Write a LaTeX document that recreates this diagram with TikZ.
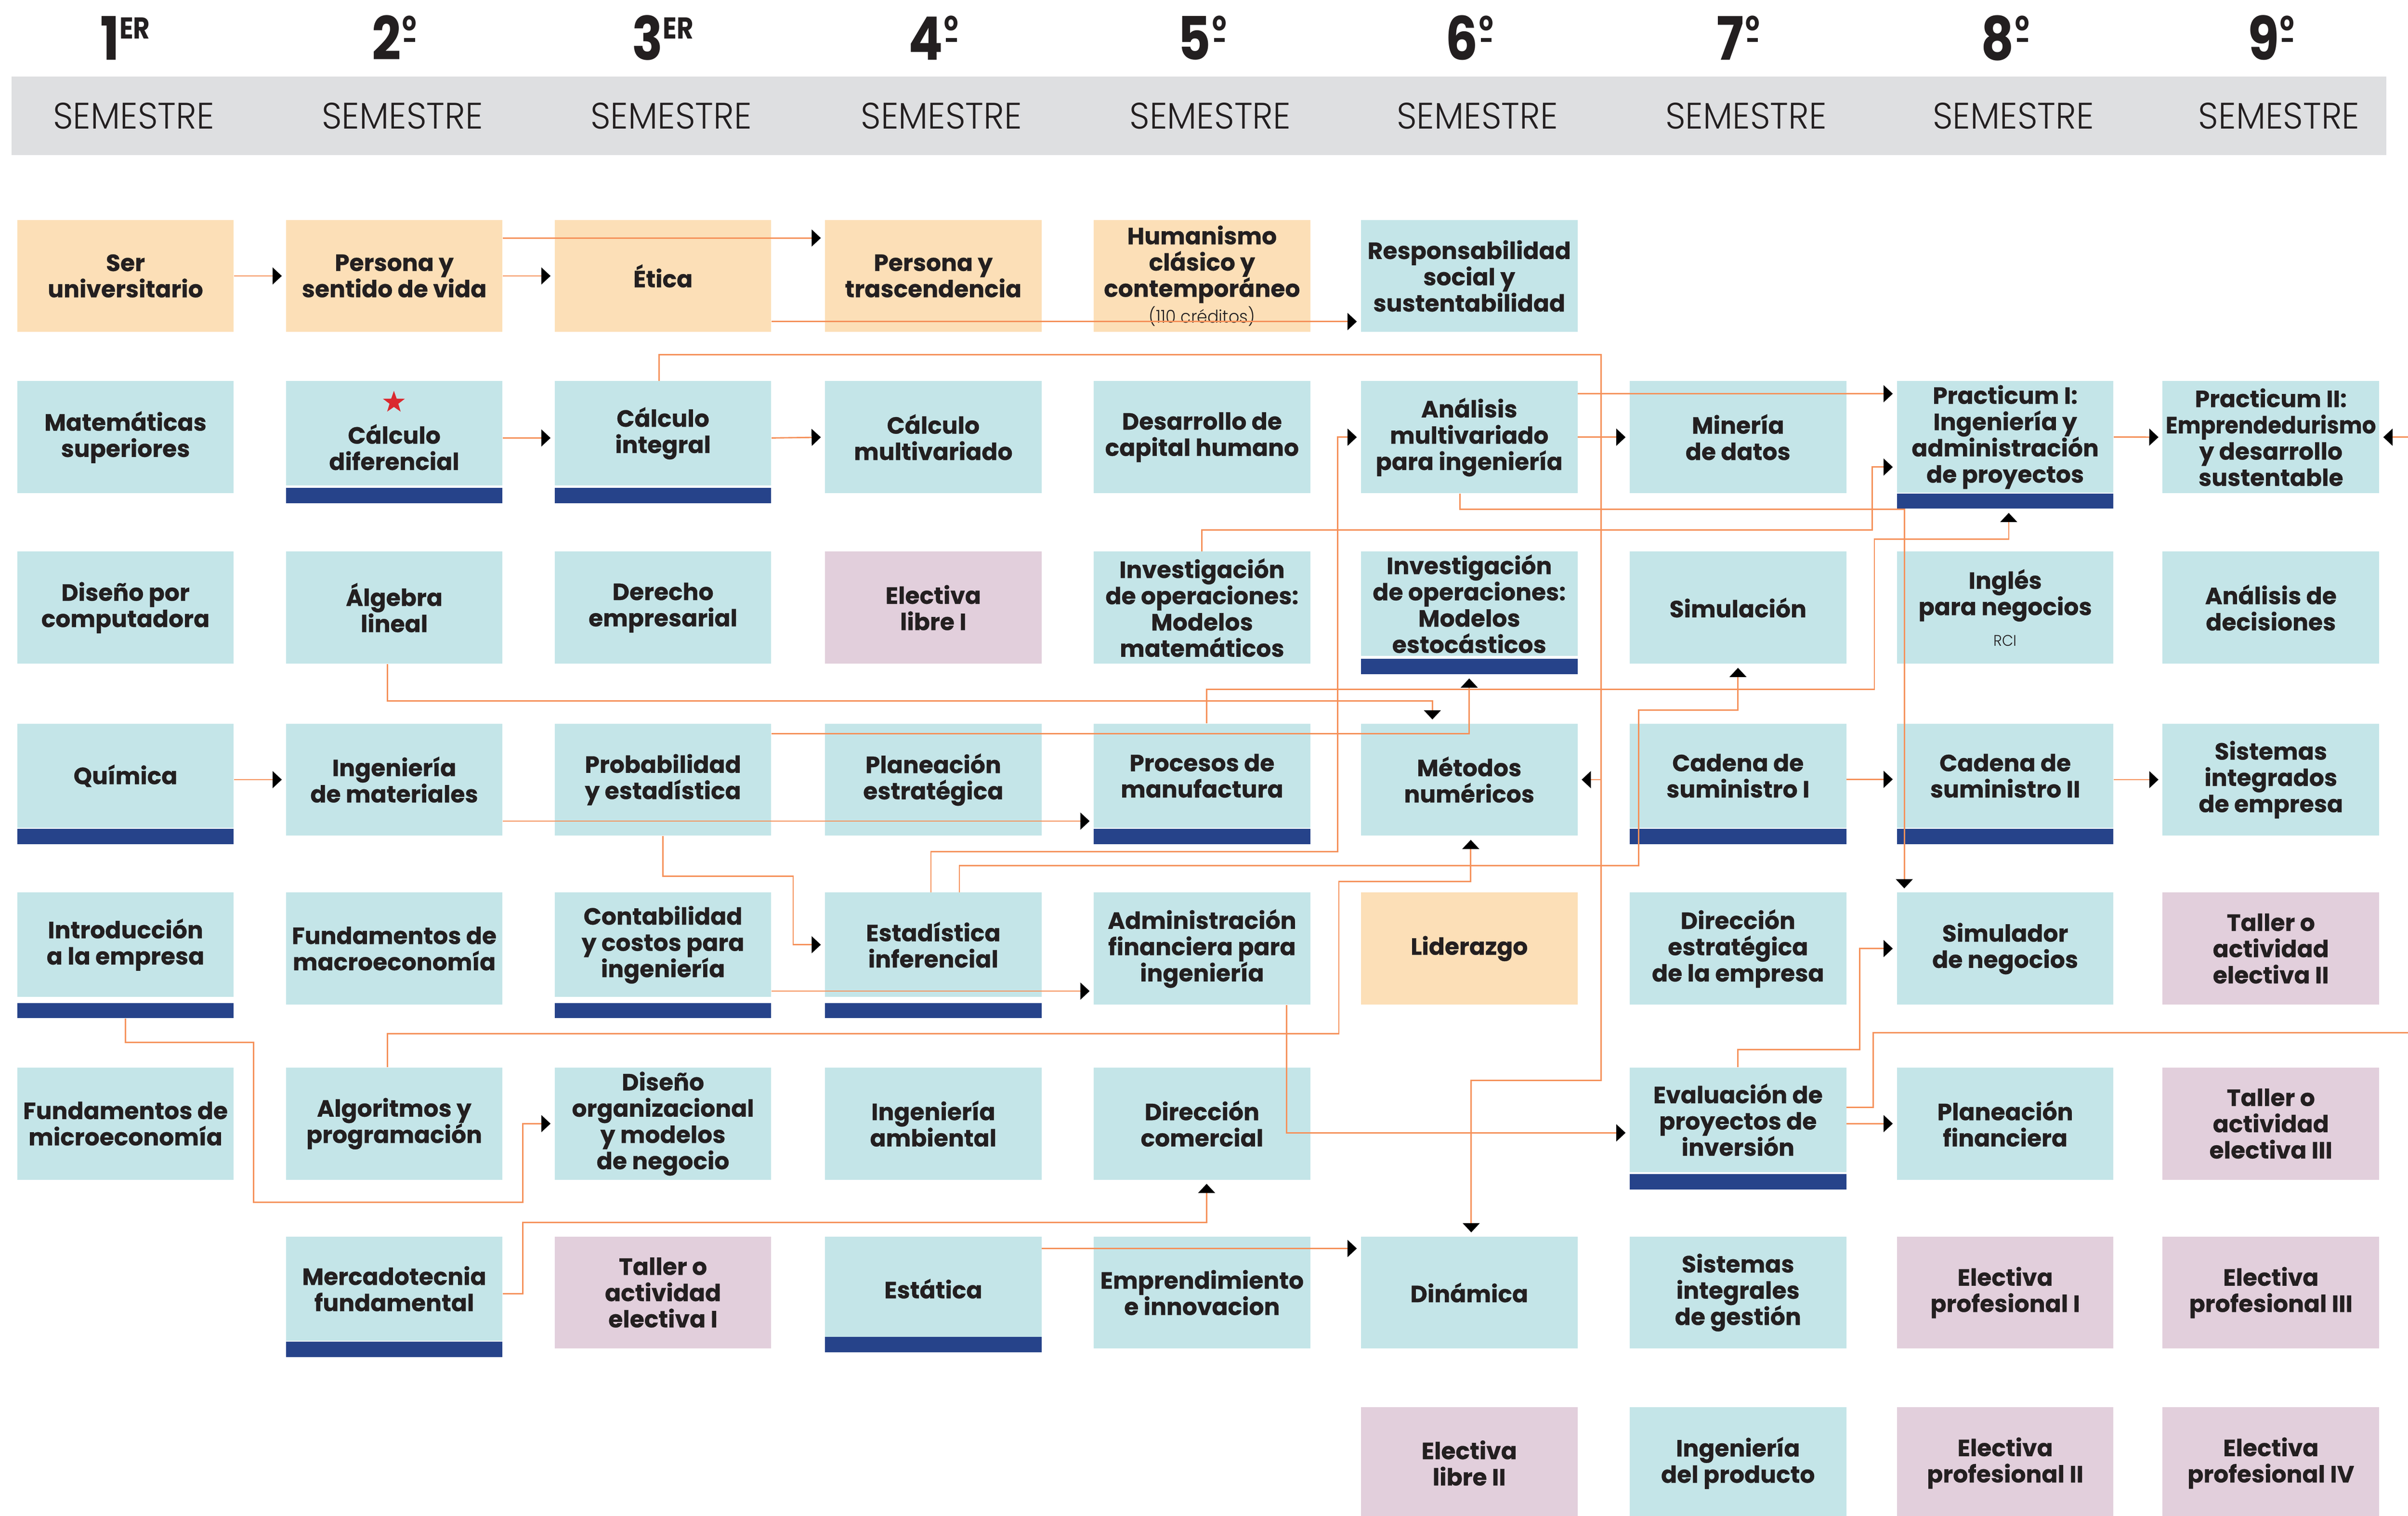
\documentclass[tikz,border=0pt]{standalone}
\usepackage{fontspec}
\usepackage{graphicx}
\setmainfont{Poppins}
\newfontfamily\boxfont{Poppins Bold}[FakeStretch=1.0,FakeBold=0.5]
\newfontfamily\thinfont{Poppins Light}[FakeStretch=0.95]
\newfontfamily\numfont{Poppins Bold}[FakeStretch=0.85]
\usetikzlibrary{arrows.meta,shapes.geometric}
\tikzset{>={Triangle[length=6pt,width=11pt,color=black]}}
\definecolor{peach}{RGB}{252,223,183}
\definecolor{aqua}{RGB}{196,229,232}
\definecolor{lilac}{RGB}{226,207,220}
\definecolor{barblue}{RGB}{38,67,138}
\definecolor{headgray}{RGB}{222,223,225}
\definecolor{ink}{RGB}{35,31,32}
\definecolor{wire}{RGB}{245,145,90}
\definecolor{starred}{RGB}{218,41,47}
\newcommand{\cfont}{\boxfont\fontsize{15.3}{17.1}\selectfont}
\tikzset{
  course/.style={rectangle,inner sep=0pt,minimum width=141pt,minimum height=73pt,
    anchor=north west,align=center,text=ink,font=\cfont},
  barcourse/.style={course,minimum height=68pt},
  coursetext/.style={inner sep=0pt,align=center,text=ink,font=\cfont},
  stripe/.style={rectangle,inner sep=0pt,minimum width=141pt,minimum height=10pt,
    fill=barblue,anchor=north},
  link/.style={->,wire,line width=0.9pt,shorten >=2.5pt},
  semnum/.style={anchor=base,text=ink,inner sep=0pt},
  semlab/.style={anchor=base,text=ink,inner sep=0pt,font=\thinfont\fontsize{24}{24}\selectfont}
}
\newcommand{\supER}{\raisebox{13.6pt}{\numfont\fontsize{19.6}{19.6}\selectfont ER}}
\newcommand{\ordo}{\hspace{1.5pt}%
  \makebox[0pt][l]{\makebox[8pt][c]{\raisebox{19pt}{\numfont\fontsize{17}{17}\selectfont o}}}%
  \makebox[8pt][c]{\raisebox{11.6pt}{\rule{7pt}{2.6pt}}}}
\newcommand{\semester}[3]{%
  \node[semnum] (num#1) at (#2,39) {{\numfont\fontsize{39}{39}\selectfont #1}#3};
  \node[semlab] (sem#1) at (#2+5.5,84) {SEMESTRE};
}
\newcommand{\stripe}[2]{\node[stripe] (#1-bar) at ([yshift=#2pt]#1.south) {};}

\begin{document}
\begin{tikzpicture}[x=1pt,y=-1pt]
  \useasboundingbox (0,0) rectangle (1568,987);

  % HEADER
  \fill[headgray] (7.4,50) rectangle (1554,101);
  \semester{1}{81.5}{\supER}
  \semester{2}{256.5}{\ordo}
  \semester{3}{431.5}{\supER}
  \semester{4}{607.5}{\ordo}
  \semester{5}{782.5}{\ordo}
  \semester{6}{956.5}{\ordo}
  \semester{7}{1131.5}{\ordo}
  \semester{8}{1305.5}{\ordo}
  \semester{9}{1478.5}{\ordo}

  % 1ER SEMESTRE
  \node[course,fill=peach] (seruni) at (11,143) {Ser\\universitario};
  \node[course,fill=aqua] (matsup) at (11,248) {Matemáticas\\superiores};
  \node[course,fill=aqua] (disenocomp) at (11,359) {Diseño por\\computadora};
  \node[barcourse,fill=aqua] (quimica) at (11,471) {Química};
  \node[barcourse,fill=aqua] (intro) at (11,581) {Introducción\\a la empresa};
  \node[course,fill=aqua] (micro) at (11,695) {Fundamentos de\\microeconomía};

  % 2o SEMESTRE
  \node[course,fill=peach] (persvida) at (186,143) {Persona y\\sentido de vida};
  \node[barcourse,fill=aqua] (calcdif) at (186,248) {};
  \node[coursetext] (calcdif-txt) at ([yshift=-9pt]calcdif.center) {Cálculo\\diferencial};
  \node[star,star points=5,star point ratio=2.5,fill=starred,inner sep=0pt,minimum size=15pt] (calcstar) at (256.5,262) {};
  \node[course,fill=aqua] (algebra) at (186,359) {Álgebra\\lineal};
  \node[course,fill=aqua] (ingmat) at (186,471) {Ingeniería\\de materiales};
  \node[course,fill=aqua] (macro) at (186,581) {Fundamentos de\\macroeconomía};
  \node[course,fill=aqua] (algoritmos) at (186,695) {Algoritmos y\\programación};
  \node[barcourse,fill=aqua] (mercado) at (186,805) {Mercadotecnia\\fundamental};

  % 3ER SEMESTRE
  \node[course,fill=peach] (etica) at (361,143) {Ética};
  \node[barcourse,fill=aqua] (calcint) at (361,248) {Cálculo\\integral};
  \node[course,fill=aqua] (derecho) at (361,359) {Derecho\\empresarial};
  \node[course,fill=aqua] (probest) at (361,471) {Probabilidad\\y estadística};
  \node[barcourse,fill=aqua] (contab) at (361,581) {Contabilidad\\y costos para\\ingeniería};
  \node[course,fill=aqua] (disorg) at (361,695) {Diseño\\organizacional\\y modelos\\de negocio};
  \node[course,fill=lilac] (taller1) at (361,805) {Taller o\\actividad\\electiva I};

  % 4o SEMESTRE
  \node[course,fill=peach] (perstrasc) at (537,143) {Persona y\\trascendencia};
  \node[course,fill=aqua] (calcmulti) at (537,248) {Cálculo\\multivariado};
  \node[course,fill=lilac] (electlib1) at (537,359) {Electiva\\libre I};
  \node[course,fill=aqua] (planest) at (537,471) {Planeación\\estratégica};
  \node[barcourse,fill=aqua] (estinf) at (537,581) {Estadística\\inferencial};
  \node[course,fill=aqua] (ingamb) at (537,695) {Ingeniería\\ambiental};
  \node[barcourse,fill=aqua] (estatica) at (537,805) {Estática};

  % 5o SEMESTRE
  \node[course,fill=peach] (humanismo) at (712,143) {Humanismo\\clásico y\\contemporáneo\\{\thinfont\fontsize{11.5}{13}\selectfont (110 créditos)}};
  \node[course,fill=aqua] (desarrollo) at (712,248) {Desarrollo de\\capital humano};
  \node[course,fill=aqua] (invmat) at (712,359) {Investigación\\de operaciones:\\Modelos\\matemáticos};
  \node[barcourse,fill=aqua] (procesos) at (712,471) {Procesos de\\manufactura};
  \node[course,fill=aqua] (adminfin) at (712,581) {Administración\\financiera para\\ingeniería};
  \node[course,fill=aqua] (dircom) at (712,695) {Dirección\\comercial};
  \node[course,fill=aqua] (emprend) at (712,805) {Emprendimiento\\e innovacion};

  % 6o SEMESTRE
  \node[course,fill=aqua] (respsoc) at (886,143) {Responsabilidad\\social y\\sustentabilidad};
  \node[course,fill=aqua] (anmulti) at (886,248) {Análisis\\multivariado\\para ingeniería};
  \node[barcourse,fill=aqua] (invest) at (886,359) {Investigación\\de operaciones:\\Modelos\\estocásticos};
  \node[course,fill=aqua] (metnum) at (886,471) {Métodos\\numéricos};
  \node[course,fill=peach] (liderazgo) at (886,581) {Liderazgo};
  \node[course,fill=aqua] (dinamica) at (886,805) {Dinámica};
  \node[course,fill=lilac] (electlib2) at (886,916) {Electiva\\libre II};

  % 7o SEMESTRE
  \node[course,fill=aqua] (mineria) at (1061,248) {Minería\\de datos};
  \node[course,fill=aqua] (simulacion) at (1061,359) {Simulación};
  \node[barcourse,fill=aqua] (cadena1) at (1061,471) {Cadena de\\suministro I};
  \node[course,fill=aqua] (direstr) at (1061,581) {Dirección\\estratégica\\de la empresa};
  \node[barcourse,fill=aqua] (evalproy) at (1061,695) {Evaluación de\\proyectos de\\inversión};
  \node[course,fill=aqua] (sisgest) at (1061,805) {Sistemas\\integrales\\de gestión};
  \node[course,fill=aqua] (ingprod) at (1061,916) {Ingeniería\\del producto};

  % 8o SEMESTRE
  \node[barcourse,fill=aqua,minimum height=72.7pt] (pract1) at (1235,248) {Practicum I:\\Ingeniería y\\administración\\de proyectos};
  \node[course,fill=aqua] (ingles) at (1235,359) {Inglés\\para negocios\\[3pt]{\thinfont\fontsize{10}{12}\selectfont RCI}};
  \node[barcourse,fill=aqua] (cadena2) at (1235,471) {Cadena de\\suministro II};
  \node[course,fill=aqua] (simneg) at (1235,581) {Simulador\\de negocios};
  \node[course,fill=aqua] (planfin) at (1235,695) {Planeación\\financiera};
  \node[course,fill=lilac] (electprof1) at (1235,805) {Electiva\\profesional I};
  \node[course,fill=lilac] (electprof2) at (1235,916) {Electiva\\profesional II};

  % 9o SEMESTRE
  \node[course,fill=aqua] (pract2) at (1408,248) {Practicum II:\\\scalebox{0.93}[1]{Emprendedurismo}\\y desarrollo\\sustentable};
  \node[course,fill=aqua] (andecis) at (1408,359) {Análisis de\\decisiones};
  \node[course,fill=aqua] (sisint) at (1408,471) {Sistemas\\integrados\\de empresa};
  \node[course,fill=lilac] (taller2) at (1408,581) {Taller o\\actividad\\electiva II};
  \node[course,fill=lilac] (taller3) at (1408,695) {Taller o\\actividad\\electiva III};
  \node[course,fill=lilac] (electprof3) at (1408,805) {Electiva\\profesional III};
  \node[course,fill=lilac] (electprof4) at (1408,916) {Electiva\\profesional IV};

  % BARS
  \stripe{calcdif}{-1}
  \stripe{calcint}{-1}
  \stripe{pract1}{0}
  \stripe{invest}{-1.5}
  \stripe{quimica}{0}
  \stripe{procesos}{0}
  \stripe{cadena1}{0}
  \stripe{cadena2}{0}
  \stripe{intro}{-3.5}
  \stripe{contab}{-3.5}
  \stripe{estinf}{-3.5}
  \stripe{evalproy}{-1}
  \stripe{mercado}{0}
  \stripe{estatica}{3}

  % CONNECTORS
  \coordinate (calcT) at (1042.6,231);
  \coordinate (calcB) at (1042.6,703.6);
  \coordinate (am) at (1240,331.5);
  \draw[link] (seruni.east) -- (persvida.west);
  \draw[link] (persvida.east) -- (etica.west);
  \draw[link] ([yshift=-12pt]persvida.north east) -- ([yshift=-12pt]perstrasc.north west);
  \draw[link] ([yshift=7pt]etica.south east) -- ([yshift=7pt]respsoc.south west);
  \draw[link] ([yshift=-3pt]calcdif.east) -- ([yshift=-3pt]calcint.west);
  \draw[link] ([yshift=-3pt]calcint.east) -- (calcmulti.west);
  \draw[link] ([xshift=-2.5pt]calcint.north) |- (calcT) -- (calcB) -| ([xshift=1.3pt]dinamica.north);
  \draw[link] (calcT |- metnum.east) -- (metnum.east);
  \draw[link] ([xshift=-1.5pt]estinf.north) |- (871,554.5) |- (anmulti.west);
  \draw[link] ([xshift=17pt]estinf.north) |- (1067,563.6) -- (1067,462.5) -| (simulacion.south);
  \draw[link] ([xshift=-4.5pt]algoritmos.north) |- (871.8,673) -- (871.8,574) -| ([xshift=1pt]metnum.south);
  \draw[link] (invmat.north) |- (1219,345) |- ([yshift=-19.6pt]pract1.west);
  \draw[link] ([xshift=-6pt]anmulti.south) |- (am) -- (am |- simneg.north);
  \draw[link] ([xshift=3pt]procesos.north) |- (1220.5,449) -- (1220.5,351) -| ([xshift=2.3pt]pract1-bar.south);
  \draw[link] ([xshift=-4.5pt]algebra.south) |- ([xshift=-24pt,yshift=14.6pt]metnum.north) -- ([xshift=-24pt]metnum.north);
  \draw[link] ([yshift=-6.7pt]probest.north east) -| (invest-bar.south);
  \draw[link] ([yshift=9.7pt]ingmat.south east) -- ([yshift=9.7pt]ingmat.south east -| procesos.west);
  \draw[link] (probest.south) |- (516.5,570.5) |- (estinf.west);
  \draw[link] ([yshift=9pt]adminfin.south west -| contab.east) -- ([yshift=9pt]adminfin.south west);
  \draw[link] (intro-bar.south) |- (165,678.7) |- (340.5,783) |- (disorg.west);
  \draw[link] ([yshift=-3.3pt]mercado.east) -| (340.5,796) -| ([xshift=3pt]dircom.south);
  \draw[link] ([yshift=-8pt]estatica.north east) -- ([yshift=-8pt]dinamica.north west);
  \draw[link] ([xshift=55pt]adminfin.south) |- ([yshift=-8.5pt]evalproy.west);
  \draw[link] (evalproy.north) |- (1211,683.5) |- (simneg.west);
  \draw[link] (evalproy.east |- planfin.west) -- (planfin.west);
  \draw[link] ([yshift=8pt]evalproy.east) -| (1219.8,672.5) -- (1580,672.5) |- (pract2.east);
  \draw[link] (anmulti.east) -- (mineria.west);
  \draw[link] ([yshift=-8.4pt]anmulti.north east) -- ([yshift=-8.4pt]pract1.north west);
  \draw[link] (pract1.east) -- (pract2.west);
  \draw[link] (quimica.east |- ingmat.west) -- (ingmat.west);
  \draw[link] ([yshift=-2.3pt]cadena1.east) -- ([yshift=-2.3pt]cadena2.west);
  \draw[link] (cadena2.east |- sisint.west) -- (sisint.west);
\end{tikzpicture}
\end{document}
